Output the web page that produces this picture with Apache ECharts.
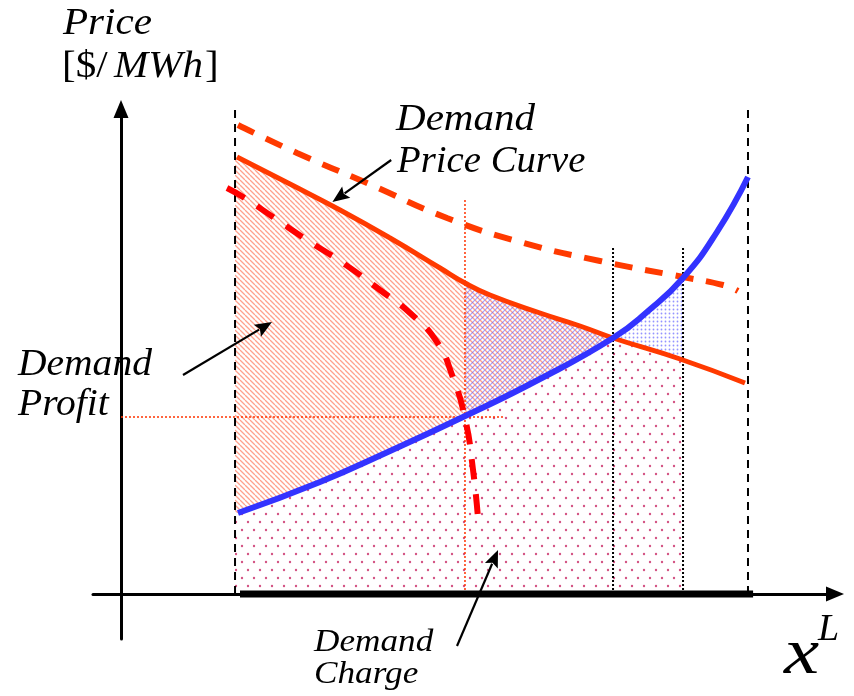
<!DOCTYPE html>
<html>
<head>
<meta charset="utf-8">
<script src="https://cdn.jsdelivr.net/npm/echarts@6/dist/echarts.min.js"></script>
<style>html,body{margin:0;padding:0;background:#fff}#c{width:854px;height:696px}</style>
</head>
<body>
<div id="c"></div>
<script>
// ---- data (x = load quantity, y = price) ----
const demandPrice = [[16.57,87.4],[24.14,82.0],[31.29,76.8],[38.43,71.2],[45.57,65.2],[49.14,62.2],[52.71,59.8],[59.86,56.2],[65.57,53.6],[70.29,51.2],[79.86,47.0],[89.14,42.2]];
const demandPriceHigh = [[16.71,93.8],[25.14,88.2],[35.14,82.2],[46.57,75.2],[57.0,70.4],[68.43,66.6],[80.29,63.4],[86.0,61.8],[88.14,60.6]];
const demandBid = [[15.14,81.2],[17.43,79.4],[21.71,75.4],[26.57,70.8],[31.71,66.2],[37.0,60.8],[41.29,56.2],[45.14,50.4],[47.29,43.8],[49.14,35.2],[50.29,24.8],[51.0,15.2]];
const supplyCurve = [[16.71,16.2],[28.43,22.4],[38.43,28.6],[48.86,35.4],[59.57,42.8],[70.29,51.2],[75.14,56.4],[80.29,63.2],[85.14,72.4],[89.57,83.4]];
const xLeft = 16.29, xRight = 89.57, xClear = 49.14, xCross = 70.29, xCap = 80.29;
const yClear = 35.4, yTop = 97, yDotTop = 69.2, yClearTop = 78.8, xClearRight = 54.57;
const baseFrom = 17.0, baseTo = 90.3;
const arrows = [[38.6,86.8,30.2,78.4],[8.86,43.8,21.57,54.4],[48.0,-10.4,53.86,8.8]];

// ---- helpers ----
function interpY(curve, x){
  for(let i=0;i<curve.length-1;i++){
    const a=curve[i],b=curve[i+1];
    if(x>=a[0]&&x<=b[0]){const t=(x-a[0])/(b[0]-a[0]);return a[1]+t*(b[1]-a[1]);}
  }
  return x<curve[0][0]?curve[0][1]:curve[curve.length-1][1];
}
function sub(curve,x0,x1){
  const out=[[x0,interpY(curve,x0)]];
  curve.forEach(p=>{if(p[0]>x0&&p[0]<x1)out.push(p);});
  out.push([x1,interpY(curve,x1)]);
  return out;
}
function rev(a){return a.slice().reverse();}
const regions = [
  [[xLeft,0]].concat(sub(supplyCurve,xLeft,xCross), sub(demandPrice,xCross,xCap), [[xCap,0]]),
  sub(demandPrice,xLeft,xCross).concat(rev(sub(supplyCurve,xLeft,xCross))),
  sub(demandPrice,xClear,xCross).concat(rev(sub(supplyCurve,xClear,xCross))),
  sub(supplyCurve,xCross,xCap).concat(rev(sub(demandPrice,xCross,xCap)))
];

function hatch(color, dir, size, lw){
  const c=document.createElement('canvas');c.width=c.height=size;
  const g=c.getContext('2d');g.strokeStyle=color;g.lineWidth=lw;g.beginPath();
  for(let k=-1;k<=1;k++){
    if(dir==='\\'){g.moveTo(k*size,0);g.lineTo(k*size+size,size);}
    else{g.moveTo(k*size,size);g.lineTo(k*size+size,0);}
  }
  g.stroke();
  return {image:c,repeat:'repeat'};
}
function dots(color, w, h, pts, r){
  const c=document.createElement('canvas');c.width=w;c.height=h;
  const g=c.getContext('2d');g.fillStyle=color;
  pts.forEach(p=>{g.beginPath();g.arc(p[0],p[1],r,0,Math.PI*2);g.fill();});
  return {image:c,repeat:'repeat'};
}
const fills = [
  dots('rgba(200,40,100,0.8)',12,16,[[2,2],[8,10]],1.2),
  hatch('rgba(255,110,80,0.65)','\\',5,1.3),
  hatch('rgba(90,90,255,0.55)','/',5,1.2),
  dots('rgba(90,90,255,0.65)',4,4,[[1.5,1.5]],0.9)
];

function seg(data,color,width,type,z){
  return {type:'line',data:data,showSymbol:false,symbol:'none',silent:true,z:z||3,
    lineStyle:{color:color,width:width,type:type||'solid'}};
}
function curve(data,color,width,type){
  const s=seg(data,color,width,type,5);s.smooth=0.5;return s;
}

const chart = echarts.init(document.getElementById('c'),null,{renderer:'canvas'});
const serif='"Liberation Serif","Times New Roman",serif';
function txt(x,y,text,size,italic,sx){
  return {type:'text',x:x,y:y,scaleX:sx||1,style:{text:text,font:(italic?'italic ':'')+size+'px '+serif,fill:'#000',verticalAlign:'middle'}};
}
chart.setOption({
  animation:false,
  grid:{left:93,right:19,top:109,bottom:57},
  xAxis:{type:'value',min:-4,max:102,axisLine:{onZero:true,lineStyle:{color:'#000',width:3},symbol:['none','triangle'],symbolSize:[15,18]},
    axisTick:{show:false},axisLabel:{show:false},splitLine:{show:false}},
  yAxis:{type:'value',min:-9,max:97,axisLine:{onZero:true,lineStyle:{color:'#000',width:3},symbol:['none','triangle'],symbolSize:[15,18]},
    axisTick:{show:false},axisLabel:{show:false},splitLine:{show:false}},
  series:[
    {type:'custom',silent:true,z:1,data:regions.map((r,i)=>[i]),
      renderItem:function(params,api){
        const pts=regions[params.dataIndex].map(p=>api.coord(p));
        return {type:'polygon',shape:{points:pts},style:{fill:fills[params.dataIndex],stroke:null}};
      }},
    seg([[xLeft,0],[xLeft,yTop]],'#000',2,[8,6]),
    seg([[xRight,0],[xRight,yTop]],'#000',2,[8,6]),
    seg([[xCross,0],[xCross,yDotTop]],'#000',2,[2,2]),
    seg([[xCap,0],[xCap,yDotTop]],'#000',2,[2,2]),
    seg([[xClear,0],[xClear,yClearTop]],'#ff3300',1.5,[2,2]),
    seg([[0,yClear],[xClearRight,yClear]],'#ff3300',1.5,[2,2]),
    curve(demandPriceHigh,'#ff3a00',6,[18,13]),
    curve(demandPrice,'#ff3a00',5),
    curve(supplyCurve,'#3333ff',6),
    curve(demandBid,'#ff0000',6,[20,15]),
    seg([[baseFrom,0],[baseTo,0]],'#000',7,'solid',6),
    {type:'custom',silent:true,z:7,data:arrows.map((a,i)=>[i]),
      renderItem:function(params,api){
        const a=arrows[params.dataIndex];
        const p1=api.coord([a[0],a[1]]),p2=api.coord([a[2],a[3]]);
        const dx=p2[0]-p1[0],dy=p2[1]-p1[1],L=Math.hypot(dx,dy),ux=dx/L,uy=dy/L;
        const hl=17,hw=7;
        const bx=p2[0]-ux*hl,by=p2[1]-uy*hl;
        return {type:'group',children:[
          {type:'line',shape:{x1:p1[0],y1:p1[1],x2:bx+ux*2,y2:by+uy*2},style:{stroke:'#000',lineWidth:2.2}},
          {type:'polygon',shape:{points:[p2,[bx-uy*hw,by+ux*hw],[bx+ux*3,by+uy*3],[bx+uy*hw,by-ux*hw]]},style:{fill:'#000'}}
        ]};
      }}
  ],
  graphic:[
    txt(63,24,'Price',38,true,1.08),
    {type:'text',x:62,y:67,scaleX:1.08,style:{text:'{n|[$/}{i|MWh}{n|]}',verticalAlign:'middle',
      rich:{n:{font:'38px '+serif,fill:'#000'},i:{font:'italic 38px '+serif,fill:'#000',padding:[0,2,0,6]}}}},
    txt(396,120,'Demand',38,true,1.08),
    txt(397,162,'Price Curve',38,true,1.02),
    txt(18,365,'Demand',38,true,1.04),
    txt(18,405,'Profit',38,true,1.04),
    txt(314,643,'Demand',32,true,1.1),
    txt(314,675,'Charge',32,true,1.1),
    txt(784,656,'x',66,true,1.2),
    txt(818,630,'L',38,true,1)
  ]
});
</script>
</body>
</html>
